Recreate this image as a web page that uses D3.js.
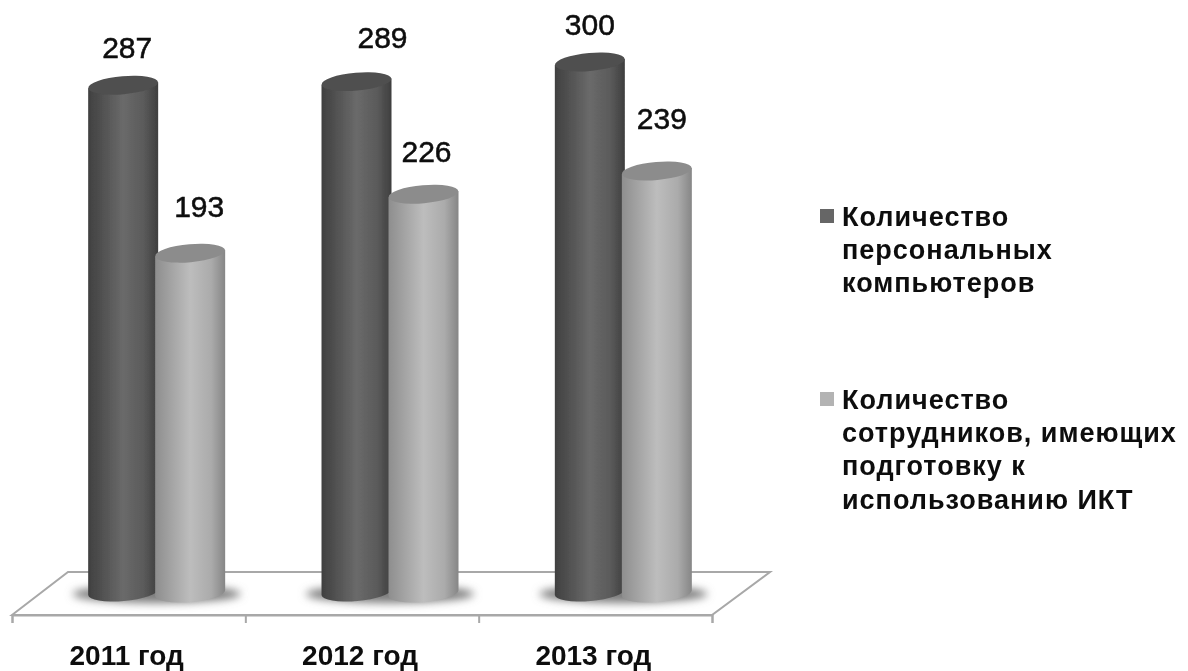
<!DOCTYPE html>
<html>
<head>
<meta charset="utf-8">
<script src="https://cdn.jsdelivr.net/npm/d3@7"></script>
<style>
  html, body { margin: 0; padding: 0; background: #fff; }
  text { font-family: "Liberation Sans", Arial, sans-serif; fill: #0a0a0a; }
</style>
</head>
<body>
<script>
// данные
var years = ["2011 год", "2012 год", "2013 год"];
var computers = [287, 289, 300];
var trained = [193, 226, 239];
var legendComputers = ["Количество", "персональных", "компьютеров"];
var legendTrained = ["Количество", "сотрудников, имеющих", "подготовку к", "использованию ИКТ"];

var width = 1188, height = 671;
var depthX = 58, floorFront = 615, floorBack = 572;
var rx = 35, ry = 9, tilt = -5;

var svg = d3.select("body").append("svg")
    .attr("width", width)
    .attr("height", height)
    .style("display", "block");

// шкалы
var x = d3.scaleBand().domain(years).range([12, 712]);
var edges = d3.scaleLinear().domain([0, years.length]).range([12, 712]);
var y = d3.scaleLinear().domain([0, 300]).range([598, 62]);
var seriesX = d3.scalePoint().domain(["computers", "trained"]).range([-33.5, 33.5]);

var defs = svg.append("defs");

function gradient(id, stops) {
  var g = defs.append("linearGradient").attr("id", id);
  stops.forEach(function(s) {
    g.append("stop").attr("offset", s[0]).attr("stop-color", s[1]);
  });
}
gradient("darkBody", [[0, "#404040"], [0.5, "#6a6a6a"], [0.8, "#5a5a5a"], [1, "#3e3e3e"]]);
gradient("lightBody", [[0, "#8e8e8e"], [0.5, "#bdbdbd"], [0.8, "#ababab"], [1, "#868686"]]);

defs.append("filter").attr("id", "soft")
    .attr("x", "-30%").attr("y", "-100%").attr("width", "160%").attr("height", "300%")
  .append("feGaussianBlur").attr("stdDeviation", 4);
defs.append("filter").attr("id", "edge")
    .append("feGaussianBlur").attr("stdDeviation", 0.5);
defs.append("filter").attr("id", "textSoft")
    .attr("x", "-5%").attr("y", "-5%").attr("width", "110%").attr("height", "110%")
  .append("feGaussianBlur").attr("stdDeviation", 0.35);

// пол
var floor = d3.path();
floor.moveTo(12, floorFront);
floor.lineTo(12 + depthX - 2, floorBack);
floor.lineTo(712 + depthX, floorBack);
floor.lineTo(712, floorFront);
floor.closePath();
svg.append("path")
    .attr("d", floor.toString())
    .attr("fill", "#fff")
    .attr("stroke", "#a8a8a8")
    .attr("stroke-width", 2);

// оси
var tickAxis = svg.append("g")
    .attr("transform", "translate(0," + floorFront + ")")
    .call(d3.axisBottom(edges).ticks(years.length).tickFormat("").tickSize(8));
tickAxis.select(".domain").attr("stroke", "#a8a8a8").attr("stroke-width", 2);
tickAxis.selectAll("line").attr("stroke", "#a8a8a8").attr("stroke-width", 2);

var labelAxis = svg.append("g")
    .attr("transform", "translate(-2," + floorFront + ")")
    .attr("filter", "url(#textSoft)")
    .call(d3.axisBottom(x).tickSize(0).tickPadding(30));
labelAxis.select(".domain").remove();
labelAxis.selectAll("text")
    .attr("font-family", "Liberation Sans")
    .attr("font-size", 28)
    .attr("font-weight", "bold");

// цилиндры
function cylinder(cx, top, base) {
  var t = tilt * Math.PI / 180;
  var dy = rx * Math.sin(t);
  var l = cx - rx, r = cx + rx;
  return "M" + l + "," + (top - dy) +
    "L" + l + "," + (base - dy) +
    "A" + rx + "," + ry + " " + tilt + " 0 0 " + r + "," + (base + dy) +
    "L" + r + "," + (top + dy) + "Z";
}

var baseY = 592;
var labelDx = [[4, 26, 0], [9, 3, 5]];
var labelDy = [[-27, -34, -27], [-36, -32, -42]];

var rows = years.map(function(year, i) {
  return [
    {year: year, i: i, s: 0, key: "computers", value: computers[i], body: "url(#darkBody)", cap: "#4f4f4f"},
    {year: year, i: i, s: 1, key: "trained", value: trained[i], body: "url(#lightBody)", cap: "#8c8c8c"}
  ];
});
var marks = d3.merge(rows);
function cx(d) { return x(d.year) + x.bandwidth() / 2 + depthX / 2 + seriesX(d.key) - 1; }

// тени
svg.append("g").selectAll("ellipse")
    .data(years)
  .enter().append("ellipse")
    .attr("cx", function(d) { return x(d) + x.bandwidth() / 2 + depthX / 2 - 1; })
    .attr("cy", 594)
    .attr("rx", 84)
    .attr("ry", 9)
    .attr("fill", "#7c7c7c")
    .attr("filter", "url(#soft)");

var bars = svg.append("g").attr("filter", "url(#edge)").selectAll("g")
    .data(marks)
  .enter().append("g");

bars.append("path")
    .attr("d", function(d) { return cylinder(cx(d), y(d.value), baseY + d.s); })
    .attr("fill", function(d) { return d.body; });

bars.append("ellipse")
    .attr("cx", 0).attr("cy", 0)
    .attr("rx", rx).attr("ry", ry)
    .attr("transform", function(d) {
      return "translate(" + cx(d) + "," + y(d.value) + ") rotate(" + tilt + ")";
    })
    .attr("fill", function(d) { return d.cap; });

// подписи значений
svg.append("g").attr("filter", "url(#textSoft)").selectAll("text")
    .data(marks)
  .enter().append("text")
    .attr("x", function(d) { return cx(d) + labelDx[d.s][d.i]; })
    .attr("y", function(d) { return y(d.value) + labelDy[d.s][d.i]; })
    .attr("text-anchor", "middle")
    .attr("font-size", 30)
    .attr("stroke", "#0a0a0a")
    .attr("stroke-width", 0.5)
    .text(function(d) { return d.value; });

// легенда
function legend(lines, color, top) {
  svg.append("rect")
      .attr("x", 820).attr("y", top - 17)
      .attr("width", 14).attr("height", 14)
      .attr("fill", color);
  svg.append("g").attr("filter", "url(#textSoft)").selectAll("text")
      .data(lines)
    .enter().append("text")
      .attr("x", 842)
      .attr("y", function(d, i) { return top + i * 33.2; })
      .attr("font-size", 27)
      .attr("font-weight", "bold")
      .attr("letter-spacing", 1)
      .text(function(d) { return d; });
}
legend(legendComputers, "#666666", 226);
legend(legendTrained, "#b3b3b3", 409);
</script>
</body>
</html>
